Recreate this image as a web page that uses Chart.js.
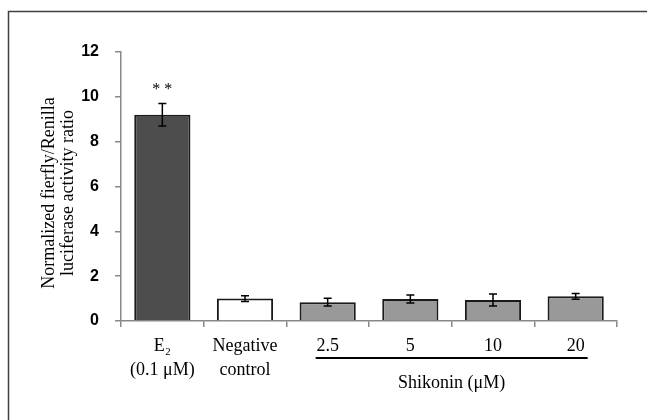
<!DOCTYPE html>
<html>
<head>
<meta charset="utf-8">
<script src="https://cdn.jsdelivr.net/npm/chart.js@4"></script>
<style>
  body { margin: 0; background: #fff; }
</style>
</head>
<body>
<canvas id="myChart" width="647" height="420"></canvas>
<script>
const categories = [['E₂', '(0.1 μM)'], ['Negative', 'control'], '2.5', '5', '10', '20'];
const ratios = [9.2, 1.0, 0.84, 0.98, 0.94, 1.1];
const errors = [0.5, 0.13, 0.17, 0.18, 0.27, 0.13];
const barColors = ['#4d4d4d', '#ffffff', '#999999', '#999999', '#999999', '#999999'];
const yTicks = [0, 2, 4, 6, 8, 10, 12];
const yTitle = ['Normalized fierfly/Renilla', 'luciferase activity ratio'];
const groupLabel = 'Shikonin (μM)';
const groupRange = [2, 5]; // shikonin bars
const serif = '"Liberation Serif", "Times New Roman", serif';

// frame + axis title + shikonin bracket + stars
const extras = {
  id: 'extras',
  afterDraw(chart) {
    const ctx = chart.ctx;
    const x = chart.scales.x;
    const y = chart.scales.y;
    ctx.save();

    ctx.strokeStyle = '#404040';
    ctx.lineWidth = 1.5;
    ctx.beginPath();
    ctx.moveTo(8.5, 420);
    ctx.lineTo(8.5, 11.5);
    ctx.lineTo(647, 11.5);
    ctx.stroke();

    ctx.fillStyle = '#000';
    ctx.font = '18px ' + serif;
    ctx.textAlign = 'center';
    ctx.textBaseline = 'middle';
    ctx.save();
    ctx.translate(49, 193);
    ctx.rotate(-Math.PI / 2);
    ctx.fillText(yTitle[0], 0, 0);
    ctx.fillText(yTitle[1], 0, 19);
    ctx.restore();

    const x1 = x.getPixelForValue(groupRange[0]) - 12;
    const x2 = x.getPixelForValue(groupRange[1]) + 12;
    ctx.strokeStyle = '#000';
    ctx.lineWidth = 2;
    ctx.beginPath();
    ctx.moveTo(x1, 358);
    ctx.lineTo(x2, 358);
    ctx.stroke();
    ctx.fillText(groupLabel, (x1 + x2) / 2, 383);

    const bar = chart.getDatasetMeta(0).data[0];
    ctx.font = '16px ' + serif;
    ctx.fillText('* *', bar.x, y.getPixelForValue(ratios[0] + errors[0]) - 14);
    ctx.restore();
  },
  afterDatasetsDraw(chart) {
    const ctx = chart.ctx;
    const y = chart.scales.y;
    ctx.save();
    ctx.strokeStyle = '#000';
    ctx.lineWidth = 1.5;
    chart.getDatasetMeta(0).data.forEach((bar, i) => {
      const top = y.getPixelForValue(ratios[i] + errors[i]);
      const bot = y.getPixelForValue(ratios[i] - errors[i]);
      ctx.beginPath();
      ctx.moveTo(bar.x, top);
      ctx.lineTo(bar.x, bot);
      ctx.moveTo(bar.x - 4, top);
      ctx.lineTo(bar.x + 4, top);
      ctx.moveTo(bar.x - 4, bot);
      ctx.lineTo(bar.x + 4, bot);
      ctx.stroke();
    });
    ctx.restore();
  }
};

new Chart(document.getElementById('myChart'), {
  type: 'bar',
  data: {
    labels: categories,
    datasets: [{
      data: ratios,
      backgroundColor: barColors,
      borderColor: '#1a1a1a',
      borderWidth: 2,
      categoryPercentage: 1,
      barPercentage: 0.68
    }]
  },
  options: {
    responsive: false,
    animation: false,
    layout: { padding: { top: 52, right: 30, left: 0, bottom: 0 } },
    plugins: { legend: { display: false }, tooltip: { enabled: false } },
    scales: {
      x: {
        afterFit: (s) => { s.height = 99; },
        grid: { drawOnChartArea: false, tickLength: 6, color: '#888', lineWidth: 1.5 },
        border: { color: '#888', width: 1.5 },
        ticks: {
          color: '#000',
          padding: 8,
          maxRotation: 0,
          autoSkip: false,
          font: { family: serif, size: 18, lineHeight: 1.3 }
        }
      },
      y: {
        min: 0,
        max: 12,
        afterFit: (s) => { s.width = 121; },
        afterBuildTicks: (s) => { s.ticks = yTicks.map((v) => ({ value: v })); },
        grid: { drawOnChartArea: false, tickLength: 6, color: '#888', lineWidth: 1.5 },
        border: { color: '#888', width: 1.5 },
        ticks: {
          color: '#000',
          padding: 16,
          font: { family: '"Liberation Sans", Arial, sans-serif', size: 16, weight: 'bold' }
        }
      }
    }
  },
  plugins: [extras]
});
</script>
</body>
</html>
